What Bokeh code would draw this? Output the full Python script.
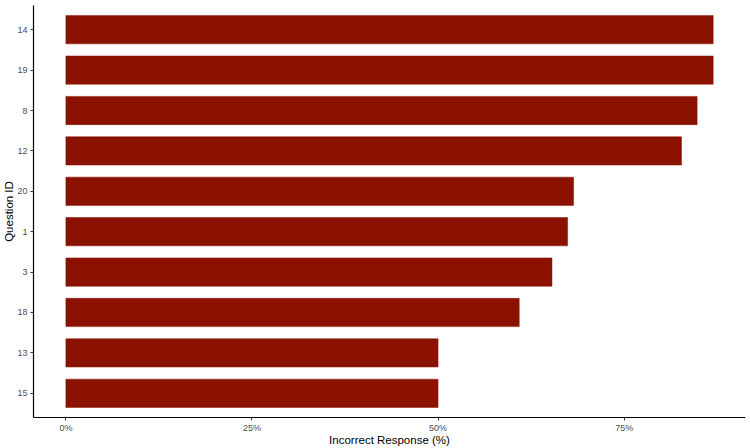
from bokeh.plotting import figure
from bokeh.models import FactorRange, Range1d, FixedTicker, PrintfTickFormatter
from bokeh.embed import file_html
from bokeh.resources import INLINE

# Data (top to bottom in the chart)
question_ids = ["14", "19", "8", "12", "20", "1", "3", "18", "13", "15"]
incorrect_pct = [86.96, 86.96, 84.8, 82.7, 68.2, 67.4, 65.3, 60.9, 50.0, 50.0]
x_ticks = [0, 25, 50, 75]

factors = list(reversed(question_ids))

p = figure(
    width=750, height=448,
    y_range=FactorRange(factors=factors, range_padding=0.1, range_padding_units="absolute"),
    x_range=Range1d(-4.35, 91.3),
    output_backend="svg", toolbar_location=None,
    min_border_left=10, min_border_right=5, min_border_top=5, min_border_bottom=10,
)

p.hbar(y=question_ids, right=incorrect_pct, left=0, height=0.7,
       fill_color="#8B1100", line_color="#8B1100", line_width=0.5)

p.outline_line_color = None
p.xgrid.grid_line_color = None
p.ygrid.grid_line_color = None
p.background_fill_color = "white"

font = "Liberation Sans"
for ax in (p.xaxis[0], p.yaxis[0]):
    ax.axis_line_color = "black"
    ax.axis_line_width = 1.2
    ax.major_tick_line_color = "#333333"
    ax.major_tick_out = 3
    ax.major_tick_in = 0
    ax.minor_tick_line_color = None
    ax.major_label_text_font = font
    ax.major_label_text_font_size = "9px"
    ax.major_label_text_color = "#4d4d4d"
    ax.axis_label_text_font = font
    ax.axis_label_text_font_size = "11.5px"
    ax.axis_label_text_font_style = "normal"
    ax.axis_label_text_color = "black"

p.xaxis.major_label_standoff = 2
p.xaxis.axis_label_standoff = -2
p.yaxis.major_label_standoff = 3
p.yaxis.axis_label_standoff = -1

p.xaxis.ticker = FixedTicker(ticks=x_ticks)
p.xaxis.formatter = PrintfTickFormatter(format="%d%%")
p.xaxis.axis_label = "Incorrect Response (%)"
p.yaxis.axis_label = "Question ID"

open("out.html", "w").write(file_html(p, INLINE))
